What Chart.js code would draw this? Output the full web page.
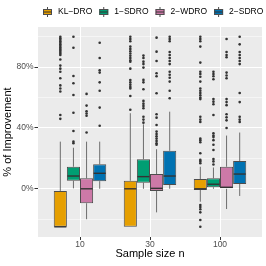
<!DOCTYPE html>
<html>
<head>
<meta charset="utf-8">
<script src="https://cdn.jsdelivr.net/npm/chart.js@4"></script>
<style>
  body { margin: 0; background: #fff; }
  #wrap { width: 266px; height: 266px; }
</style>
</head>
<body>
<div id="wrap"><canvas id="boxChart"></canvas></div>
<script>
// Sample sizes (x axis) and methods (fill)
const sampleSizes = ["10", "30", "100"];
const methods = ["KL−DRO", "1−SDRO", "2−WDRO", "2−SDRO"];
const colors = ["#E69F00", "#009E73", "#CC79A7", "#0072B2"];

// [lower whisker, Q1, median, Q3, upper whisker] per sample size, in %
const klStats = [[-25, -25, -25, -1.4, 31], [-25, -25, 0, 5.3, 49.7], [-8.5, -0.8, 0, 6.4, 14.5]];
const sdro1Stats = [[0.3, 5.3, 8.4, 14.5, 27], [0, 4, 8, 19.4, 42.4], [0, 1, 3, 6.9, 14]];
const wdro2Stats = [[-20, -9.5, 0, 6.9, 31], [-15.5, -1.4, 0.3, 9.7, 26], [-13.3, 0, 1, 14.5, 35]];
const sdro2Stats = [[0, 5, 10.2, 16.1, 31], [0, 2.5, 8.4, 25, 50.7], [-4.7, 3.2, 9.7, 18.3, 37]];

// outliers per sample size, in %
const klOutliers = [
  [100, 99, 98, 97, 96, 95, 94, 93, 92, 91, 90, 89, 88, 85, 81, 79, 77, 72.7, 68, 66, 64, 48.5, 46],
  [100, 98.5, 97, 93.5, 92, 90.5, 89, 87.5, 86, 84.5, 83.5, 79, 71.5, 70, 68.5, 67, 66, 61, 52],
  [100, 98.5, 97, 93.5, 83, 77, 75.5, 73.7, 70.5, 66, 64.5, 63, 61.5, 60, 59, 47.4, 45.5, 44,
   33, 32, 30.6, 23.4, 19, 18, 16.8, -10.7, -12, -13.5, -15.5, -20.5, -25]
];
const sdro1Outliers = [
  [100, 92.8, 74.2, 69.4, 61.7, 50, 38, 31, 30],
  [87.6, 86, 83.6, 82, 79.7, 71.6, 70, 65.5, 57.8, 56, 54.5, 53, 47.4, 45.5, 43.5],
  [77, 75.5, 74, 72, 59, 57.3, 55.6, 48.5, 36.5, 35, 34, 32, 29, 25.5, 19.6, 18, 16]
];
const wdro2Outliers = [
  [62.4, 54.7, 51, 49.5, 48, 37],
  [99.4, 90.2, 84, 76, 74, 62.8, 49, 46.8, 42, 37.6, 36, 34.5, 33, 31.5, 30, 29],
  [98.5, 90, 88, 86.5, 76.4, 74.5, 72.7, 59, 57, 55, 49, 47, 45, 40]
];
const sdro2Outliers = [
  [96, 86, 78, 76.4, 70, 64.5, 53.4, 41.5],
  [100, 98.5, 97, 90, 88, 86, 84, 82, 77, 75, 73, 70.5, 64.5, 59.5],
  [100, 95, 90, 88, 86, 84, 82, 63, 57, 47.4, 45.5, 44]
];

const yTicks = [-20, 0, 20, 40, 60, 80, 100];
const yMajor = [0, 40, 80];

const allStats = [klStats, sdro1Stats, wdro2Stats, sdro2Stats];
const allOutliers = [klOutliers, sdro1Outliers, wdro2Outliers, sdro2Outliers];

const FONT = "'Liberation Sans', Arial, sans-serif";
const LINE = "#4d4d4d";

// gray panel behind the grid
const panelBg = {
  id: "panelBg",
  beforeDraw(chart) {
    const { ctx, chartArea: a } = chart;
    ctx.save();
    ctx.fillStyle = "#EBEBEB";
    ctx.fillRect(a.left, a.top, a.right - a.left, a.bottom - a.top);
    ctx.restore();
  }
};

// whiskers, medians and outlier dots, placed on the bars
const boxParts = {
  id: "boxParts",
  beforeDatasetsDraw(chart) {
    const { ctx } = chart;
    const y = chart.scales.y;
    ctx.save();
    ctx.strokeStyle = LINE;
    ctx.lineWidth = 0.8;
    chart.data.datasets.forEach((ds, k) => {
      chart.getDatasetMeta(k).data.forEach((bar, i) => {
        const s = ds.stats[i];
        ctx.beginPath();
        ctx.moveTo(bar.x, y.getPixelForValue(s[0]));
        ctx.lineTo(bar.x, y.getPixelForValue(s[1]));
        ctx.moveTo(bar.x, y.getPixelForValue(s[3]));
        ctx.lineTo(bar.x, y.getPixelForValue(s[4]));
        ctx.stroke();
      });
    });
    ctx.restore();
  },
  afterDatasetsDraw(chart) {
    const { ctx } = chart;
    const y = chart.scales.y;
    ctx.save();
    chart.data.datasets.forEach((ds, k) => {
      chart.getDatasetMeta(k).data.forEach((bar, i) => {
        const med = y.getPixelForValue(ds.stats[i][2]);
        ctx.strokeStyle = "#333";
        ctx.lineWidth = 1.4;
        ctx.beginPath();
        ctx.moveTo(bar.x - bar.width / 2 + 0.5, med);
        ctx.lineTo(bar.x + bar.width / 2 - 0.5, med);
        ctx.stroke();
        ctx.fillStyle = "#333";
        ds.outliers[i].forEach(v => {
          ctx.beginPath();
          ctx.arc(bar.x, y.getPixelForValue(v), 1.3, 0, Math.PI * 2);
          ctx.fill();
        });
      });
    });
    ctx.restore();
  }
};

// ggplot style legend with small boxplot keys
const keyLegend = {
  id: "keyLegend",
  afterDraw(chart) {
    const { ctx } = chart;
    ctx.save();
    ctx.font = "8.5px " + FONT;
    ctx.textBaseline = "middle";
    let x = 43;
    const cy = 12;
    chart.data.datasets.forEach(ds => {
      ctx.strokeStyle = LINE;
      ctx.lineWidth = 1;
      ctx.beginPath();
      ctx.moveTo(x + 4.5, cy - 5);
      ctx.lineTo(x + 4.5, cy + 5);
      ctx.stroke();
      ctx.fillStyle = ds.backgroundColor;
      ctx.fillRect(x, cy - 3, 9, 6);
      ctx.strokeRect(x + 0.5, cy - 2.5, 8, 5);
      ctx.strokeStyle = "#333";
      ctx.beginPath();
      ctx.moveTo(x + 0.5, cy);
      ctx.lineTo(x + 8.5, cy);
      ctx.stroke();
      ctx.fillStyle = "#000";
      ctx.fillText(ds.label, x + 15, cy);
      x += 15 + ctx.measureText(ds.label).width + 7;
    });
    ctx.restore();
  }
};

new Chart(document.getElementById("boxChart"), {
  type: "bar",
  data: {
    datasets: methods.map((m, k) => ({
      label: m,
      data: sampleSizes.map((s, i) => ({ x: i + 1, y: [allStats[k][i][1], allStats[k][i][3]] })),
      stats: allStats[k],
      outliers: allOutliers[k],
      backgroundColor: colors[k],
      borderColor: LINE,
      borderWidth: 1,
      borderSkipped: false
    }))
  },
  options: {
    responsive: true,
    maintainAspectRatio: false,
    animation: false,
    categoryPercentage: 0.75,
    barPercentage: 1,
    layout: { padding: { top: 27, right: 4, left: 0, bottom: 0 } },
    plugins: { legend: { display: false }, tooltip: { enabled: false } },
    scales: {
      x: {
        type: "linear",
        offset: false,
        min: 0.4,
        max: 3.6,
        afterBuildTicks: s => { s.ticks = sampleSizes.map((_, i) => ({ value: i + 1 })); },
        afterFit: s => { s.height = 29; },
        border: { display: false },
        grid: { offset: false, color: "#fff", lineWidth: 1, tickColor: "#333", tickLength: 3 },
        ticks: {
          callback: v => sampleSizes[v - 1],
          color: "#4d4d4d",
          font: { family: FONT, size: 8.5 },
          padding: 0,
          maxRotation: 0,
          autoSkip: false
        },
        title: {
          display: true,
          text: "Sample size n",
          color: "#000",
          font: { family: FONT, size: 11 },
          padding: { top: 0, bottom: 5.5 }
        }
      },
      y: {
        min: -31.7,
        max: 106.4,
        afterBuildTicks: s => { s.ticks = yTicks.map(v => ({ value: v })); },
        afterFit: s => { s.width = 38; },
        border: { display: false },
        grid: {
          color: "#fff",
          lineWidth: c => (yMajor.includes(c.tick.value) ? 1 : 0.5),
          tickColor: c => (yMajor.includes(c.tick.value) ? "#333" : "rgba(0,0,0,0)"),
          tickLength: 3.5
        },
        ticks: {
          callback: v => (yMajor.includes(v) ? v + "%" : ""),
          color: "#4d4d4d",
          font: { family: FONT, size: 8.5 },
          padding: 1
        },
        title: {
          display: true,
          text: "% of Improvement",
          color: "#000",
          font: { family: FONT, size: 11 },
          padding: { top: 1.4, bottom: 0 }
        }
      }
    }
  },
  plugins: [panelBg, boxParts, keyLegend]
});
</script>
</body>
</html>
